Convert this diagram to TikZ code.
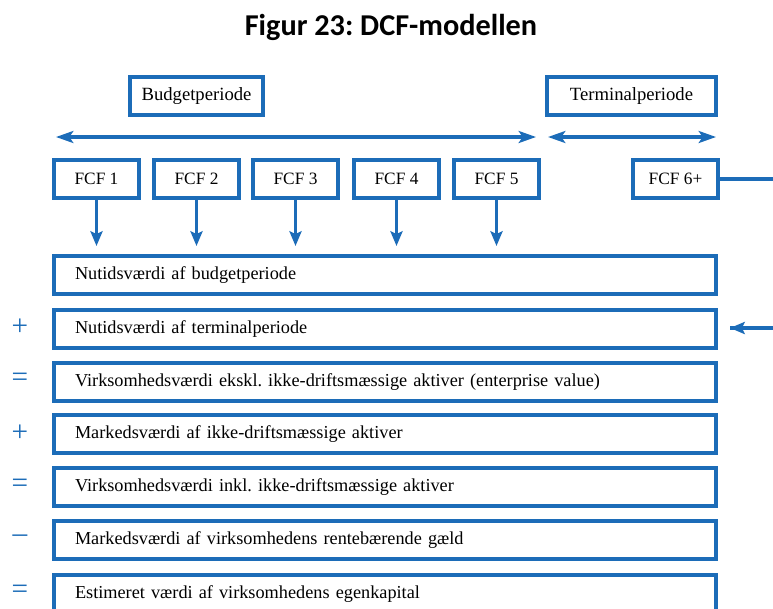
\documentclass[tikz,border=0pt]{standalone}
\usepackage{fontspec}
\setmainfont{Liberation Serif}
\newfontfamily\titlefont{Carlito}
\usetikzlibrary{arrows.meta}
\definecolor{dcfblue}{RGB}{28,108,184}
\frenchspacing
\begin{document}
\begin{tikzpicture}[x=0.75pt,y=-0.75pt,
  box/.style={draw=dcfblue,line width=2.3pt,fill=white,inner sep=0pt,outer sep=0pt},
  pbox/.style={box,minimum height=28.5pt,anchor=north west,font=\fontsize{14}{16}\selectfont},
  fcfbox/.style={box,minimum width=63.75pt,minimum height=28.5pt,anchor=north west,font=\fontsize{13}{15}\selectfont},
  rowbox/.style={box,minimum width=496.5pt,minimum height=28.5pt,anchor=north west,text width=465pt,align=left,inner xsep=15.5pt,font=\fontsize{13.7}{15}\selectfont},
  arr/.style={draw=dcfblue,line width=2.3pt,-{Stealth[length=11pt,width=9pt,inset=2pt]}},
  darr/.style={draw=dcfblue,line width=2.3pt,{Stealth[length=13pt,width=9pt,inset=3pt]}-{Stealth[length=13pt,width=9pt,inset=3pt]}},
  sign/.style={text=dcfblue,font=\fontsize{22}{24}\selectfont,inner sep=0pt}]
\useasboundingbox (0,0) rectangle (773,608);
\node[font=\titlefont\bfseries\fontsize{22.7}{26}\selectfont] (title) at (391,27) {Figur 23: DCF-modellen};
% period boxes
\node[pbox,minimum width=99.75pt] (bp) at (130,77) {Budgetperiode};
\node[pbox,minimum width=126.75pt] (tp) at (547,77) {Terminalperiode};
% double arrows
\coordinate (la) at (56,137);
\coordinate (lb) at (536,137);
\coordinate (ra) at (548,137);
\coordinate (rb) at (716,137);
\draw[darr] (la) -- (lb);
\draw[darr] (ra) -- (rb);
% FCF boxes
\node[fcfbox] (f1) at (54,160) {FCF 1};
\node[fcfbox] (f2) at (154,160) {FCF 2};
\node[fcfbox] (f3) at (253,160) {FCF 3};
\node[fcfbox] (f4) at (354,160) {FCF 4};
\node[fcfbox] (f5) at (454,160) {FCF 5};
\node[fcfbox] (f6) at (633,160) {FCF 6+};
% rows
\node[rowbox] (r1) at (54,256) {Nutidsværdi af budgetperiode};
\node[rowbox] (r2) at (54,310) {Nutidsværdi af terminalperiode};
\node[rowbox] (r3) at (54,363) {Virksomhedsværdi ekskl. ikke-driftsmæssige aktiver (enterprise value)};
\node[rowbox] (r4) at (54,415) {Markedsværdi af ikke-driftsmæssige aktiver};
\node[rowbox] (r5) at (54,468) {Virksomhedsværdi inkl. ikke-driftsmæssige aktiver};
\node[rowbox] (r6) at (54,521) {Markedsværdi af virksomhedens rentebærende gæld};
\node[rowbox] (r7) at (54,575) {Estimeret værdi af virksomhedens egenkapital};
% down arrows
\foreach \f in {f1,f2,f3,f4,f5}{
  \draw[arr] (\f.south) -- ++(0,48);
}
% terminal connector
\coordinate (c2) at (790,328);
\coordinate (c3) at (730,328);
\draw[draw=dcfblue,line width=2.3pt] (f6.east) -- (f6.east -| c2) -- (c2) -- (c3);
\draw[arr] (c2) -- (c3);
% signs
\node[sign] (s2) at (20,327) {+};
\node[sign] (s3) at (20,380) {=};
\node[sign] (s4) at (20,433) {+};
\node[sign] (s5) at (20,486) {=};
\node[sign] (s6) at (20,539) {\textendash};
\node[sign] (s7) at (20,592) {=};
\end{tikzpicture}
\end{document}
